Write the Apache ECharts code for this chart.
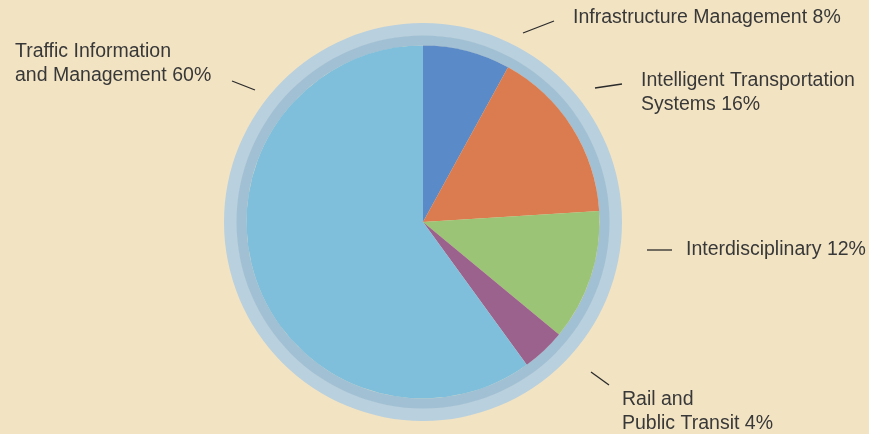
<!DOCTYPE html>
<html>
<head>
<meta charset="utf-8">
<script src="https://cdn.jsdelivr.net/npm/echarts@6/dist/echarts.min.js"></script>
<style>
  html, body { margin: 0; padding: 0; background: #f2e3c3; }
  #chart { width: 869px; height: 434px; }
</style>
</head>
<body>
<div id="chart"></div>
<script>
// data, clockwise from 12 o'clock
const categories = [
  "Infrastructure Management",
  "Intelligent Transportation\nSystems",
  "Interdisciplinary",
  "Rail and\nPublic Transit",
  "Traffic Information\nand Management"
];
const shares = [8, 16, 12, 4, 60];

const sliceColors = ["#5b8ac8", "#db7b50", "#9bc476", "#9b628e", "#7fbfdc"];
// label anchor (left, vertical middle) and short leader tick for each slice
const labelPos = [[573, 18], [641, 93], [686, 250], [622, 412], [15, 64]];
const ticks = [
  [[523, 33], [554, 21]],
  [[595, 88], [622, 84]],
  [[647, 250], [672, 250]],
  [[591, 372], [609, 385]],
  [[232, 81], [255, 90]]
];

const center = [423, 222];
const chart = echarts.init(document.getElementById("chart"));

const option = {
  backgroundColor: "#f2e3c3",
  animation: false,
  series: [
    {
      name: "outerRing",
      type: "pie",
      center: center,
      radius: [186, 199],
      silent: true,
      label: { show: false },
      labelLine: { show: false },
      itemStyle: { color: "#b9d0de" },
      data: [{ value: 1 }]
    },
    {
      name: "innerRing",
      type: "pie",
      center: center,
      radius: [176.5, 186.5],
      silent: true,
      label: { show: false },
      labelLine: { show: false },
      itemStyle: { color: "#a2c0d3" },
      data: [{ value: 1 }]
    },
    {
      name: "share",
      type: "pie",
      center: center,
      radius: [0, 176.5],
      startAngle: 90,
      clockwise: true,
      silent: true,
      itemStyle: { borderWidth: 0 },
      label: {
        show: true,
        position: "outside",
        formatter: (p) => p.name + " " + p.value + "%",
        color: "#383838",
        fontFamily: "Liberation Sans",
        fontSize: 19.5,
        lineHeight: 24,
        align: "left",
        overflow: "none"
      },
      labelLine: { show: false },
      labelLayout: (params) => ({
        x: labelPos[params.dataIndex][0],
        y: labelPos[params.dataIndex][1],
        align: "left",
        verticalAlign: "middle"
      }),
      data: categories.map((c, i) => ({
        name: c,
        value: shares[i],
        itemStyle: { color: sliceColors[i] }
      }))
    }
  ],
  graphic: ticks.map((t) => ({
    type: "line",
    silent: true,
    shape: { x1: t[0][0], y1: t[0][1], x2: t[1][0], y2: t[1][1] },
    style: { stroke: "#2b2b2b", lineWidth: 1.3 }
  }))
};

chart.setOption(option);
</script>
</body>
</html>
